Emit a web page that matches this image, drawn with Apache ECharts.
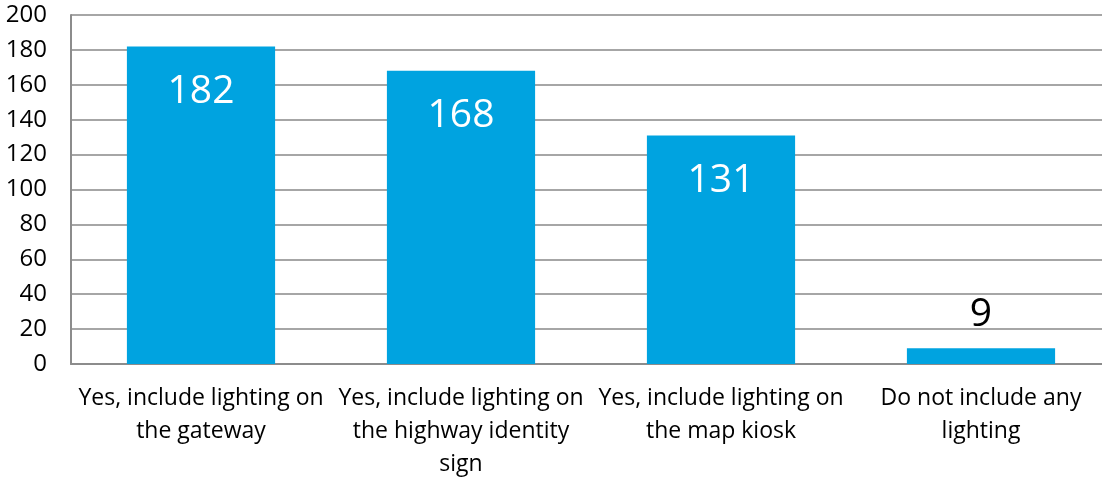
<!DOCTYPE html>
<html>
<head>
<meta charset="utf-8">
<script src="https://cdn.jsdelivr.net/npm/echarts@6/dist/echarts.min.js"></script>
<style>
  html, body { margin: 0; padding: 0; background: #ffffff; overflow: hidden; }
  #chart { width: 1102px; height: 478px; }
</style>
</head>
<body>
<div id="chart"></div>
<script>
// Survey responses: should lighting be included?
const categories = [
  'Yes, include lighting on\nthe gateway',
  'Yes, include lighting on\nthe highway identity\nsign',
  'Yes, include lighting on\nthe map kiosk',
  'Do not include any\nlighting'
];
const responses = [182, 168, 131, 9];
const yTicks = { min: 0, max: 200, interval: 20 };

const FONT = '"Open Sans", sans-serif';
const BAR_COLOR = '#00A3E0';

// Tall bars carry a white label inside; short bars get a dark label above.
const seriesData = responses.map(v => {
  const inside = v >= 40;
  return {
    value: v,
    label: inside
      ? { position: 'insideTop', distance: 26, color: '#ffffff' }
      : { position: 'top', distance: 14, color: '#000000' }
  };
});

const chart = echarts.init(document.getElementById('chart'), null, { renderer: 'canvas' });
chart.setOption({
  animation: false,
  backgroundColor: '#ffffff',
  // plot runs slightly past the right edge of the canvas
  grid: {
    left: 71, top: 15, width: 1040, height: 349,
    containLabel: false,
    outerBoundsMode: 'none'
  },
  xAxis: {
    type: 'category',
    data: categories,
    axisTick: { show: false },
    axisLine: { show: true, lineStyle: { color: '#8c8c8c', width: 2 } },
    axisLabel: {
      interval: 0,
      margin: 18,
      color: '#000000',
      fontFamily: FONT,
      fontSize: 23,
      lineHeight: 33
    }
  },
  yAxis: {
    type: 'value',
    min: yTicks.min,
    max: yTicks.max,
    interval: yTicks.interval,
    axisLine: { show: true, lineStyle: { color: '#8c8c8c', width: 2 } },
    axisTick: { show: false },
    splitLine: { show: true, lineStyle: { color: '#a6a6a6', width: 2 } },
    axisLabel: {
      margin: 24,
      color: '#000000',
      fontFamily: FONT,
      fontSize: 24
    }
  },
  series: [{
    type: 'bar',
    data: seriesData,
    barWidth: '57%',
    itemStyle: { color: BAR_COLOR },
    label: {
      show: true,
      fontFamily: FONT,
      fontSize: 39
    }
  }]
});
</script>
</body>
</html>
